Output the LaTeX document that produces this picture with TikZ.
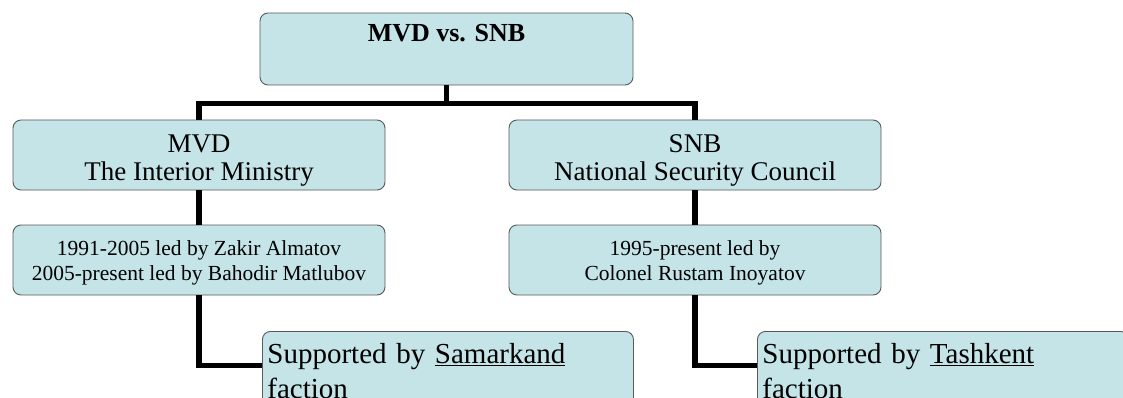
\documentclass[tikz,border=0pt]{standalone}
\usepackage{fontspec}
\setmainfont{Liberation Serif}
\usepackage{xcolor}
\definecolor{OrgFill}{HTML}{C5E4E8}
\definecolor{OrgLine}{HTML}{595959}
\usepackage{tikz}
\usetikzlibrary{positioning,calc}

\begin{document}
\begin{tikzpicture}[
  x=1pt,y=-1pt,
  orgbox/.style={draw=OrgLine,line width=0.9pt,rounded corners=8pt,fill=OrgFill,align=center,inner sep=0pt},
  headbox/.style={orgbox,font=\fontsize{26}{30}\selectfont\bfseries,minimum width=373pt,minimum height=72pt,text height=18pt,text depth=32pt},
  unitbox/.style={orgbox,font=\fontsize{27}{28}\selectfont,minimum width=372pt,minimum height=70pt},
  leadbox/.style={orgbox,font=\fontsize{21.5}{25}\selectfont,minimum width=372pt,minimum height=70pt},
  factbox/.style={orgbox,font=\fontsize{29}{35}\selectfont,align=left,anchor=north west,inner xsep=5pt,text width=361pt,minimum width=371pt,minimum height=80pt},
  link/.style={line width=5.5pt,black}
]
  \useasboundingbox (0,0) rectangle (1123,398);
  \clip (0,0) rectangle (1123,398);
  % boxes
  \node[headbox] (head) at (446.5,49) {MVD vs. SNB};
  \node[unitbox] (mvd) at (199,155) {\rule{0pt}{28.7pt}MVD\\The Interior Ministry};
  \node[unitbox] (snb) at (695,155) {\rule{0pt}{28.7pt}SNB\\National Security Council};
  \node[leadbox] (mvdlead) at (199,260) {\rule{0pt}{19.8pt}1991-2005 led by Zakir Almatov\\2005-present led by Bahodir Matlubov};
  \node[leadbox] (snblead) at (695,260) {\rule{0pt}{19.8pt}1995-present led by\\Colonel Rustam Inoyatov};
  \node[factbox] (samark) at (262,331) {Supported by \underline{Samarkand}\\faction};
  \node[factbox] (tashk) at (757,331) {Supported by \underline{Tashkent}\\faction};
  % connectors
  \draw[link] (head.south) -- ++(0,18) -| (mvd.north);
  \draw[link] (head.south) -- ++(0,18) -| (snb.north);
  \draw[link] (mvd.south) -- (mvdlead.north);
  \draw[link] (snb.south) -- (snblead.north);
  \draw[link] (mvdlead.south) |- ([yshift=6pt]samark.west);
  \draw[link] (snblead.south) |- ([yshift=6pt]tashk.west);
\end{tikzpicture}
\end{document}
